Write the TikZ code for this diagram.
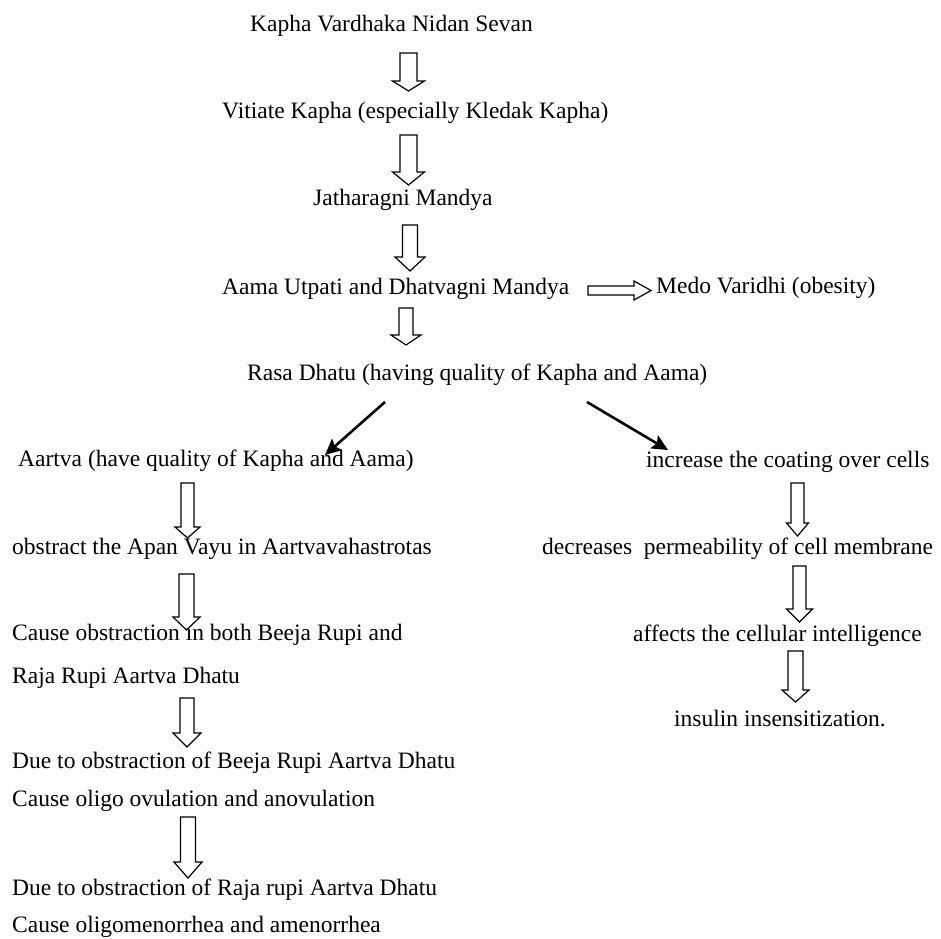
\documentclass[tikz,border=0pt]{standalone}
\usepackage{fontspec}
\setmainfont{Liberation Serif}
\usetikzlibrary{arrows.meta}
\tikzset{
  txt/.style={anchor=west,inner sep=0pt,text height=0.68em,text depth=0.22em,font=\fontsize{23.5}{28}\selectfont,yshift=-6pt},
  hollow/.style={draw=black,line width=1.2pt,fill=white,line join=miter},
  solidarrow/.style={draw=black,line width=2.6pt,-{Stealth[length=16pt,width=15pt,inset=3pt]}}
}
% \bdown{cx}{top}{headstart}{tip}{shaft half width}{head half width}
\newcommand{\bdown}[6]{%
  \draw[hollow] (#1-#5,#2) -- (#1+#5,#2) -- (#1+#5,#3) -- (#1+#6,#3) -- (#1,#4) -- (#1-#6,#3) -- (#1-#5,#3) -- cycle;}
\begin{document}
\begin{tikzpicture}[x=1pt,y=-1pt]
\useasboundingbox (0,0) rectangle (941,938);
\fill[white] (0,0) rectangle (941,938);

\node[txt] (t1) at (250,23) {Kapha Vardhaka Nidan Sevan};
\node[txt] (t2) at (222,110) {Vitiate Kapha (especially Kledak Kapha)};
\node[txt] (t3) at (313,197) {Jatharagni Mandya};
\node[txt] (t4) at (222,286) {Aama Utpati and Dhatvagni Mandya};
\node[txt] (t5) at (656,285) {Medo Varidhi (obesity)};
\node[txt] (t6) at (247,372) {Rasa Dhatu (having quality of Kapha and Aama)};
\node[txt] (t7) at (18,458) {Aartva (have quality of Kapha and Aama)};
\node[txt] (t8) at (646,459) {increase the coating over cells};
\node[txt] (t9) at (12,546) {obstract the Apan Vayu in Aartvavahastrotas};
\node[txt] (t10) at (542,546) {decreases\ \ permeability of cell membrane};
\node[txt] (t11) at (12,632) {Cause obstraction in both Beeja Rupi and};
\node[txt] (t12) at (12,675) {Raja Rupi Aartva Dhatu};
\node[txt] (t13) at (633,633) {affects the cellular intelligence};
\node[txt] (t14) at (674,718) {insulin insensitization.};
\node[txt] (t15) at (12,760) {Due to obstraction of Beeja Rupi Aartva Dhatu};
\node[txt] (t16) at (12,798) {Cause oligo ovulation and anovulation};
\node[txt] (t17) at (12,887) {Due to obstraction of Raja rupi Aartva Dhatu};
\node[txt] (t18) at (12,924) {Cause oligomenorrhea and amenorrhea};

% hollow block arrows (centre column)
\bdown{408.5}{53}{81}{91}{8.5}{16}
\bdown{408.5}{135}{172}{185}{8.5}{16}
\bdown{410}{225}{257}{271}{7.5}{15}
\bdown{406}{308}{335}{345}{7}{15}
% left column
\bdown{187.5}{483}{527}{538}{6.5}{12.5}
\bdown{186.5}{574}{617}{630}{7.5}{13.5}
\bdown{187}{698}{733}{747}{7}{14}
\bdown{188}{817}{862}{878}{7.5}{14}
% right column
\bdown{797.5}{483}{523}{536}{6.5}{11}
\bdown{799.5}{566}{609}{622}{6.5}{13}
\bdown{795.5}{651}{690}{702}{7.5}{13.5}
% horizontal block arrow to Medo Varidhi
\draw[hollow] (588,286) -- (634,286) -- (634,281) -- (651,290.5) -- (634,300) -- (634,295) -- (588,295) -- cycle;

% solid diagonal arrows
\coordinate (ls) at (385,402);
\coordinate (le) at (325,455);
\coordinate (rs) at (587,402);
\coordinate (re) at (668,450);
\draw[solidarrow] (ls) -- (le);
\draw[solidarrow] (rs) -- (re);
\end{tikzpicture}
\end{document}
